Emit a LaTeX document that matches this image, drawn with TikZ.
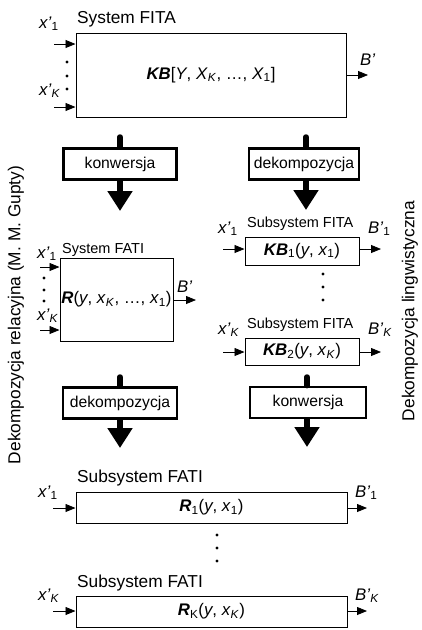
\documentclass[tikz,border=0pt]{standalone}
\usepackage{fontspec}
\setmainfont{Liberation Sans}
\usetikzlibrary{arrows.meta}
\newcommand{\fbig}{\fontsize{17.3}{20}\selectfont}
\newcommand{\fmid}{\fontsize{15.7}{19}\selectfont}
\newcommand{\fsml}{\fontsize{14.5}{17}\selectfont}
\newcommand{\fmath}{\fontsize{16.8}{19}\selectfont}
\newcommand{\sbs}[1]{\textsubscript{#1}}
\newcommand{\bi}[1]{\textbf{\textit{#1}}}
\begin{document}
\begin{tikzpicture}[x=1pt,y=-1pt,
  sysbox/.style={draw, line width=1pt, inner sep=0pt, font=\fmath},
  thickbox/.style={draw, line width=2.8pt, fill=white, inner sep=0pt, minimum height=31pt, font=\fmid},
  thinarr/.style={line width=0.8pt, -{Triangle[length=10pt,width=8pt]}},
  bigstem/.style={line width=5.5pt, line cap=round},
  bigarr/.style={line width=5.5pt, -{Triangle[length=20pt,width=24pt]}},
  lbl/.style={anchor=base west, inner sep=0pt, font=\fmath},
  caplbl/.style={anchor=base west, inner sep=0pt, font=\fbig},
  smlbl/.style={anchor=base west, inner sep=0pt, font=\fsml},
  dotn/.style={circle, fill, inner sep=0pt, minimum size=3.4pt},
  rot/.style={rotate=90, font=\fbig, inner sep=0pt}]
\useasboundingbox (0,0) rectangle (421,630);

% ---------- top: System FITA ----------
\node[sysbox, minimum width=270pt, minimum height=84pt] (fita) at (211,75)
  {\bi{KB}[\textit{Y}, \textit{X}\sbs{\textit{K}}, …, \textit{X}\sbs{1}]};
\node[caplbl] (fitacap) at (77,23) {System FITA};
\node[lbl] (fx1) at (39,28) {\textit{x'}\sbs{1}};
\node[lbl] (fxk) at (39,95) {\textit{x'}\sbs{\textit{K}}};
\coordinate (fi1) at (54,44);
\coordinate (fik) at (54,107);
\draw[thinarr] (fi1) -- (fi1 -| fita.west);
\draw[thinarr] (fik) -- (fik -| fita.west);
\node[dotn] (fd1) at (67,62) {};
\node[dotn] (fd2) at (67,76) {};
\node[dotn] (fd3) at (67,89) {};
\coordinate (fo) at (368,75);
\draw[thinarr] (fo -| fita.east) -- (fo);
\node[lbl] (fB) at (360,65) {\textit{B'}};

% ---------- left column ----------
\coordinate (ls1) at (120,137);
\node[thickbox, minimum width=113pt] (konw1) at (120,164) {konwersja};
\coordinate (lt1) at (120,211);
\draw[bigstem] (ls1) -- (konw1.north);
\draw[bigarr] (konw1.south) -- (lt1);

\node[sysbox, minimum width=113pt, minimum height=83pt] (fati) at (116.5,299.5)
  {\bi{R}(\textit{y}, \textit{x}\sbs{\textit{K}}, …, \textit{x}\sbs{1})};
\node[smlbl] (faticap) at (62,253) {System FATI};
\node[lbl] (ax1) at (37,258) {\textit{x'}\sbs{1}};
\node[lbl] (axk) at (37,320) {\textit{x'}\sbs{\textit{K}}};
\coordinate (ai1) at (40,267);
\coordinate (aik) at (40,330);
\draw[thinarr] (ai1) -- (ai1 -| fati.west);
\draw[thinarr] (aik) -- (aik -| fati.west);
\node[dotn] (ad1) at (44,278) {};
\node[dotn] (ad2) at (44,290) {};
\node[dotn] (ad3) at (44,301) {};
\coordinate (ao) at (196,300);
\draw[thinarr] (ao -| fati.east) -- (ao);
\node[lbl] (aB) at (177,292) {\textit{B'}};

\coordinate (ls2) at (120,377);
\node[thickbox, minimum width=114pt] (dek2) at (120,403) {dekompozycja};
\coordinate (lt2) at (120,448);
\draw[bigstem] (ls2) -- (dek2.north);
\draw[bigarr] (dek2.south) -- (lt2);

% ---------- right column ----------
\coordinate (rs1) at (306,137);
\node[thickbox, minimum width=110pt] (dek1) at (304,164) {dekompozycja};
\coordinate (rt1) at (306,210);
\draw[bigstem] (rs1) -- (rs1 |- dek1.north);
\draw[bigarr] (rs1 |- dek1.south) -- (rt1);

\node[sysbox, minimum width=114pt, minimum height=28pt] (sb1) at (302,251)
  {\bi{KB}\sbs{1}(\textit{y}, \textit{x}\sbs{1})};
\node[smlbl] (sb1cap) at (247,227) {Subsystem FITA};
\node[lbl] (sx1) at (218,233) {\textit{x'}\sbs{1}};
\node[lbl] (sB1) at (368,233) {\textit{B'}\sbs{1}};
\coordinate (si1) at (223,249);
\coordinate (so1) at (381,249);
\draw[thinarr] (si1) -- (si1 -| sb1.west);
\draw[thinarr] (so1 -| sb1.east) -- (so1);
\node[dotn] (sd1) at (323,274) {};
\node[dotn] (sd2) at (323,287) {};
\node[dotn] (sd3) at (323,300) {};

\node[sysbox, minimum width=114pt, minimum height=27pt] (sb2) at (302,351.5)
  {\bi{KB}\sbs{2}(\textit{y}, \textit{x}\sbs{\textit{K}})};
\node[smlbl] (sb2cap) at (247,328) {Subsystem FITA};
\node[lbl] (sxk) at (218,334) {\textit{x'}\sbs{\textit{K}}};
\node[lbl] (sBk) at (368,334) {\textit{B'}\sbs{\textit{K}}};
\coordinate (sik) at (223,352);
\coordinate (sok) at (381,352);
\draw[thinarr] (sik) -- (sik -| sb2.west);
\draw[thinarr] (sok -| sb2.east) -- (sok);

\coordinate (rs2) at (307,377);
\node[thickbox, minimum width=116pt] (konw2) at (308,402.5) {konwersja};
\coordinate (rt2) at (307,447);
\draw[bigstem] (rs2) -- (rs2 |- konw2.north);
\draw[bigarr] (rs2 |- konw2.south) -- (rt2);

% ---------- bottom: Subsystem FATI ----------
\node[caplbl] (r1cap) at (77,482) {Subsystem FATI};
\node[sysbox, minimum width=271pt, minimum height=31pt] (r1) at (211.5,507.5)
  {\bi{R}\sbs{1}(\textit{y}, \textit{x}\sbs{1})};
\node[lbl] (rx1) at (38,497) {\textit{x'}\sbs{1}};
\node[lbl] (rB1) at (355,497) {\textit{B'}\sbs{1}};
\coordinate (ri1) at (53,508);
\coordinate (ro1) at (367,508);
\draw[thinarr] (ri1) -- (ri1 -| r1.west);
\draw[thinarr] (ro1 -| r1.east) -- (ro1);
\node[dotn] (rd1) at (217,535) {};
\node[dotn] (rd2) at (217,548) {};
\node[dotn] (rd3) at (217,561) {};

\node[caplbl] (rkcap) at (77,587) {Subsystem FATI};
\node[sysbox, minimum width=271pt, minimum height=31pt] (rk) at (211.5,611.5)
  {\bi{R}\sbs{K}(\textit{y}, \textit{x}\sbs{\textit{K}})};
\node[lbl] (rxk) at (38,600) {\textit{x'}\sbs{\textit{K}}};
\node[lbl] (rBk) at (355,600) {\textit{B'}\sbs{\textit{K}}};
\coordinate (rik) at (53,611);
\coordinate (rok) at (367,611);
\draw[thinarr] (rik) -- (rik -| rk.west);
\draw[thinarr] (rok -| rk.east) -- (rok);

% ---------- rotated side texts ----------
\node[rot] (lside) at (16,315) {Dekompozycja relacyjna (M. M. Gupty)};
\node[rot] (rside) at (410,311) {Dekompozycja lingwistyczna};
\end{tikzpicture}
\end{document}
